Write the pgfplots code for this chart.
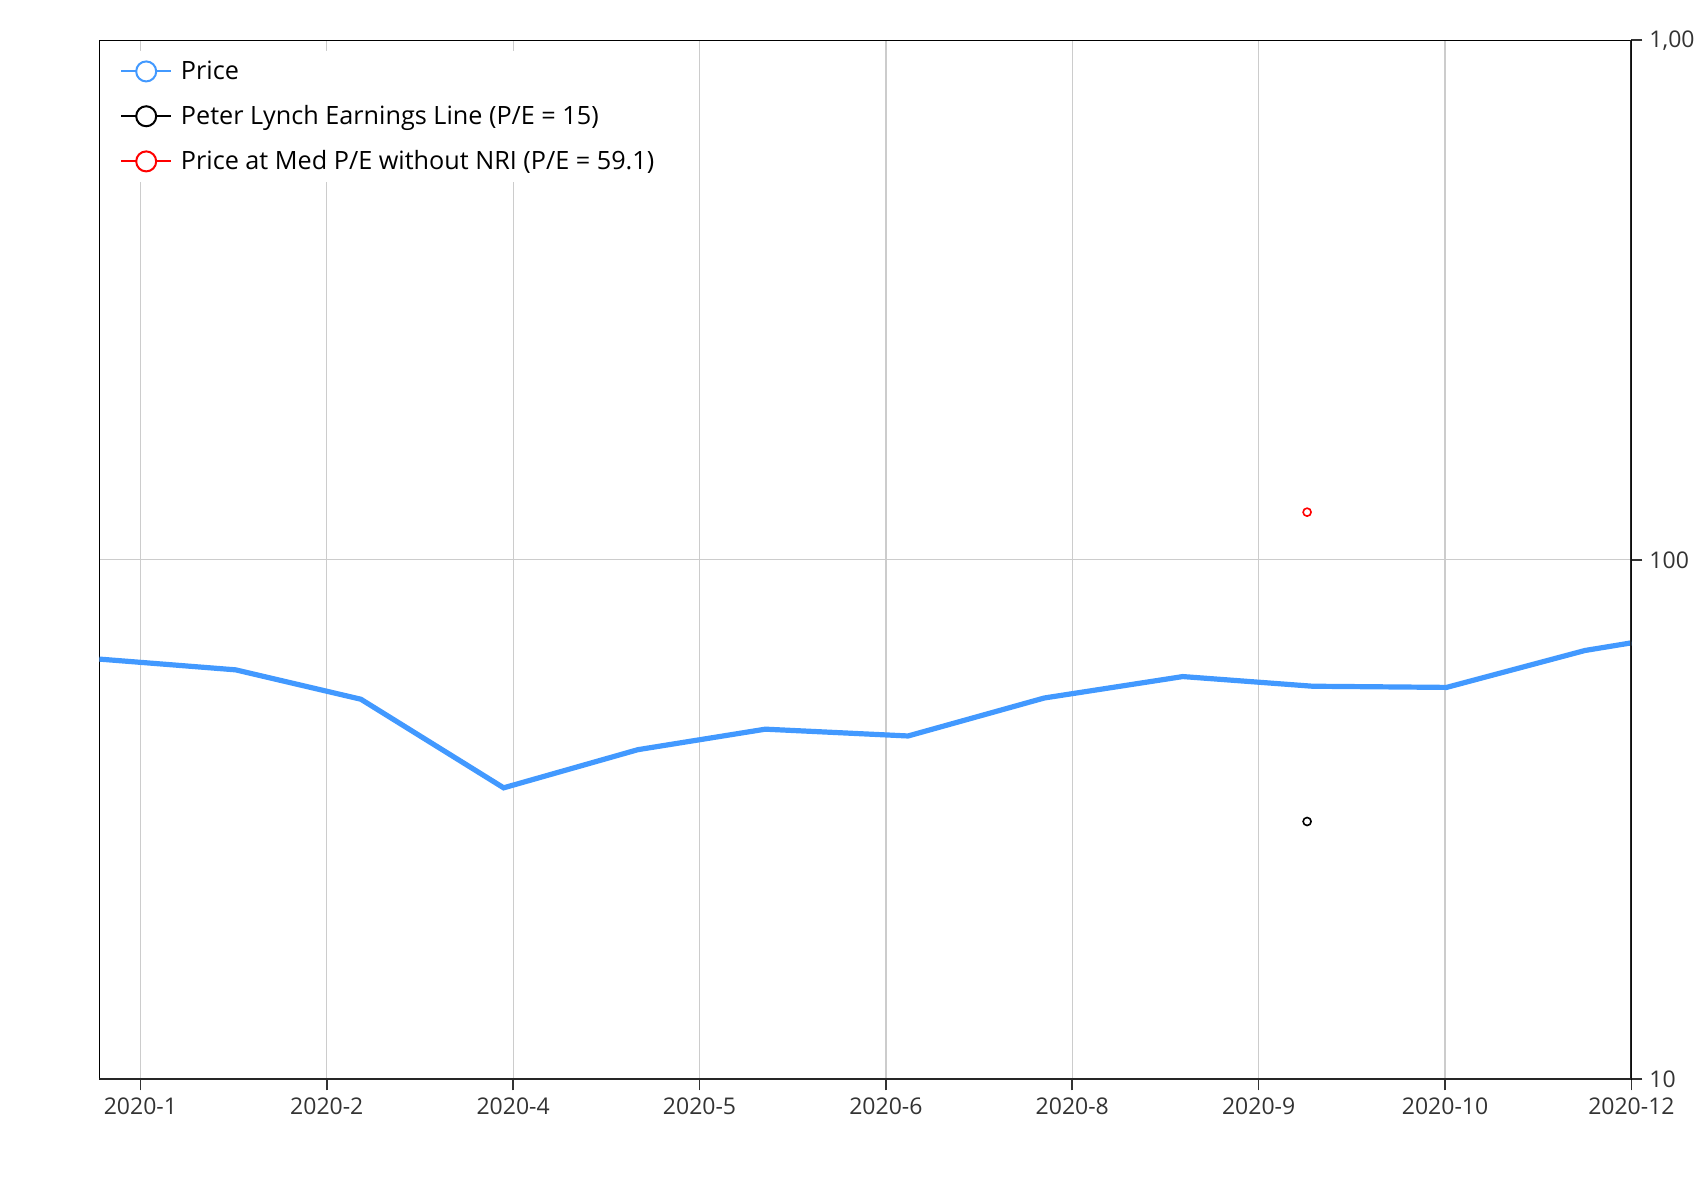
\documentclass[border=0pt]{standalone}
\usepackage{pgfplots}
\pgfplotsset{compat=1.18}
\usepackage{fontspec}
\setmainfont{Open Sans}
\definecolor{priceblue}{RGB}{66,153,255}
\definecolor{gridgray}{RGB}{204,204,204}
\definecolor{ticktext}{RGB}{51,51,51}
\begin{document}
\begin{tikzpicture}[x=1pt,y=1pt]
\path[use as bounding box] (-49.7,-60.35) rectangle (797.3,539.65);
\begin{axis}[
  at={(0,0)}, anchor=south west,
  scale only axis, width=766pt, height=519.5pt,
  xmin=-0.22, xmax=8.0,
  ymode=log, ymin=10, ymax=1000,
  xtick={0,1,2,3,4,5,6,7,8},
  xticklabels={2020-1,2020-2,2020-4,2020-5,2020-6,2020-8,2020-9,2020-10,2020-12},
  ytick={10,100,1000},
  yticklabels={10,100,{1,000}},
  yminorticks=false,
  xtick pos=bottom, ytick pos=right, yticklabel pos=right,
  tick align=outside, major tick length=5.5pt,
  tick style={ticktext, line width=0.8pt},
  ticklabel style={font=\fontsize{11.5}{13}\selectfont, text=ticktext},
  xmajorgrids, ymajorgrids,
  major grid style={gridgray, line width=0.6pt},
  axis line style={black, line width=0.6pt},
  clip=true,
  legend style={at={(axis cs:-0.22,1000)}, anchor=north west, xshift=7.2pt, yshift=-5pt,
    draw=none, fill=white, font=\fontsize{12.6}{15}\selectfont, row sep=7.5pt,
    inner sep=3pt},
  legend cell align=left,
]
\addlegendimage{legend image code/.code={\draw[priceblue,line width=1pt] (0pt,0pt)--(25pt,0pt); \draw[priceblue,fill=white,line width=1pt] (12.5pt,0pt) circle (5pt); \path (27.7pt,0pt);}}
\addlegendentry{Price}
\addlegendimage{legend image code/.code={\draw[black,line width=1pt] (0pt,0pt)--(25pt,0pt); \draw[black,fill=white,line width=1pt] (12.5pt,0pt) circle (5pt); \path (27.7pt,0pt);}}
\addlegendentry{Peter Lynch Earnings Line (P/E = 15)}
\addlegendimage{legend image code/.code={\draw[red,line width=1pt] (0pt,0pt)--(25pt,0pt); \draw[red,fill=white,line width=1pt] (12.5pt,0pt) circle (5pt); \path (27.7pt,0pt);}}
\addlegendentry{Price at Med P/E without NRI (P/E = 59.1)}
\addplot[priceblue, line width=2.6pt, mark=none, forget plot] coordinates {
(-0.22,64.4) (0.511,61.4) (1.183,53.9) (1.949,36.4) (2.669,43.1) (3.353,47.2)
(4.119,45.8) (4.850,54.2) (5.593,59.6) (6.289,57.1) (7.008,56.8) (7.751,66.9) (8.0,69.2)};
\addplot[black, only marks, mark=o, mark size=2pt, line width=0.8pt, forget plot] coordinates {(6.26,31.35)};
\addplot[red, only marks, mark=o, mark size=2pt, line width=0.8pt, forget plot] coordinates {(6.26,123.5)};
\draw[black!85, line width=1.1pt] (rel axis cs:0,0) -- (rel axis cs:1,0);
\draw[black!85, line width=1.1pt] (rel axis cs:1,0) -- (rel axis cs:1,1);
\end{axis}
\end{tikzpicture}
\end{document}
